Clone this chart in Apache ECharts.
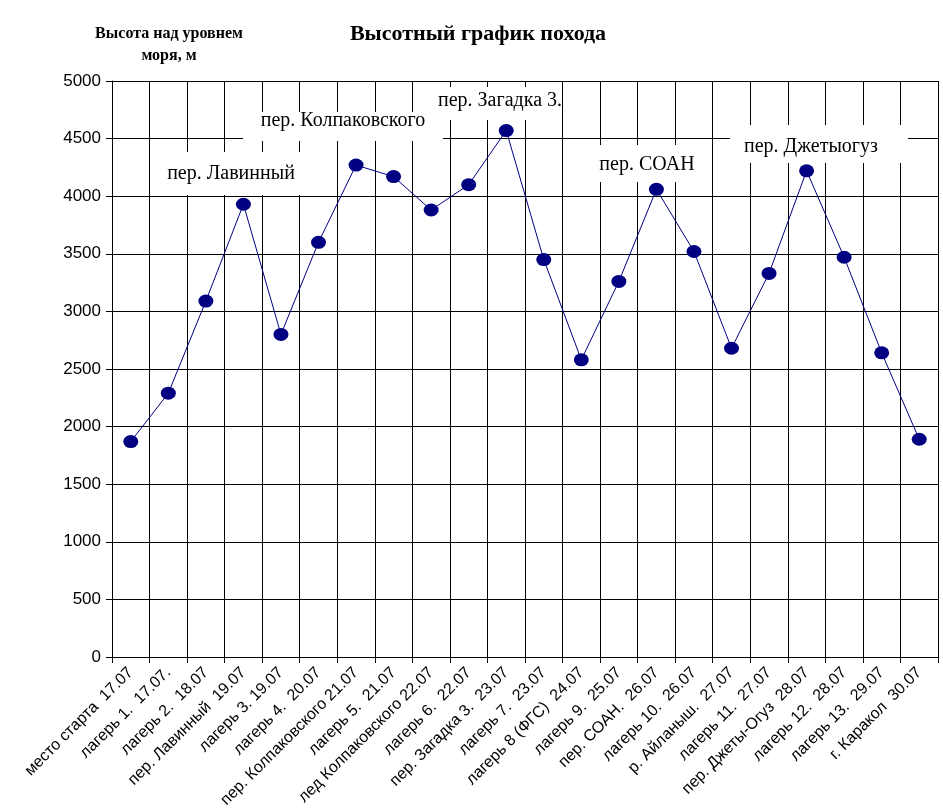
<!DOCTYPE html>
<html><head><meta charset="utf-8">
<script src="https://cdn.jsdelivr.net/npm/echarts@6/dist/echarts.min.js"></script>
<style>html,body{margin:0;padding:0;background:#fff}#c{width:943px;height:811px}</style>
</head><body><div id="c"></div>
<script>
const categories = [
  "место старта  17.07","лагерь 1.  17.07.","лагерь 2.  18.07","пер. Лавинный  19.07",
  "лагерь 3. 19.07","лагерь 4.  20.07","пер. Колпаковского 21.07","лагерь 5.  21.07",
  "лед Колпаковского 22.07","лагерь 6.  22.07","пер. Загадка 3.  23.07","лагерь 7.  23.07",
  "лагерь 8 (ФГС)  24.07","лагерь 9.  25.07","пер. СОАН.  26.07","лагерь 10.  26.07",
  "р. Айланыш.  27.07","лагерь 11.  27.07","пер. Джеты-Огуз  28.07","лагерь 12.  28.07",
  "лагерь 13.  29.07","г. Каракол  30.07"
];
const altitudes = [1870,2290,3090,3930,2800,3600,4270,4170,3880,4100,4570,3450,2580,3260,4060,3520,2680,3330,4220,3470,2640,1890];
const yTicks = [0,500,1000,1500,2000,2500,3000,3500,4000,4500,5000];
const passNames = ["пер. Лавинный","пер. Колпаковского","пер. Загадка 3.","пер. СОАН","пер. Джетыогуз"];

const chart = echarts.init(document.getElementById('c'), null, {renderer:'canvas'});
const passPos = [[231,174],[343,121],[500,101],[647,165],[811,147]];
const passBox = [[160,152,140,43],[243,112,200,29],[430,87,132,33],[590,145,115,37],[730,125,178,38]];
const graphics = [];
passNames.forEach((n,i)=>{
  const b = passBox[i];
  graphics.push({type:'rect', z:1, shape:{x:b[0],y:b[1],width:b[2],height:b[3]}, style:{fill:'#fff'}});
  graphics.push({type:'text', z:1, x:passPos[i][0], y:passPos[i][1],
    style:{text:n, font:'20px "Liberation Serif"', fill:'#000', textAlign:'center', textVerticalAlign:'middle'}});
});
graphics.push({type:'text', z:1, x:169, y:34, style:{text:'Высота над уровнем', font:'bold 16px "Liberation Serif"', fill:'#000', textAlign:'center', textVerticalAlign:'middle'}});
graphics.push({type:'text', z:1, x:169, y:56, style:{text:'моря, м', font:'bold 16px "Liberation Serif"', fill:'#000', textAlign:'center', textVerticalAlign:'middle'}});

chart.setOption({
  animation:false,
  backgroundColor:'#fff',
  title:{text:'Высотный график похода', left:473, top:18, textAlign:'center',
    textStyle:{fontFamily:'Liberation Serif', fontWeight:'bold', fontSize:22, color:'#000'}},
  grid:{left:112, right:5, top:81, bottom:154, show:false},
  xAxis:{type:'category', data:categories, boundaryGap:true,
    axisLine:{show:true, lineStyle:{color:'#000', width:1}},
    axisTick:{show:true, length:6, lineStyle:{color:'#000'}},
    axisLabel:{rotate:45, interval:0, fontFamily:'Liberation Sans', fontSize:16, color:'#000', margin:13},
    splitLine:{show:true, interval:0, lineStyle:{color:'#000', width:1}}},
  yAxis:{type:'value', min:0, max:5000, interval:500,
    axisLine:{show:true, lineStyle:{color:'#000'}},
    axisTick:{show:true, length:6, lineStyle:{color:'#000'}},
    axisLabel:{fontFamily:'Liberation Sans', fontSize:17, color:'#000', margin:11,
      formatter:v=>yTicks.includes(v)?String(v):''},
    splitLine:{show:true, lineStyle:{color:'#000', width:1}}},
  graphic:graphics,
  series:[{type:'line', data:altitudes, z:3,
    symbol:'circle', symbolSize:[15,13],
    itemStyle:{color:'#000080'},
    lineStyle:{color:'#000080', width:1}}]
});
</script></body></html>
